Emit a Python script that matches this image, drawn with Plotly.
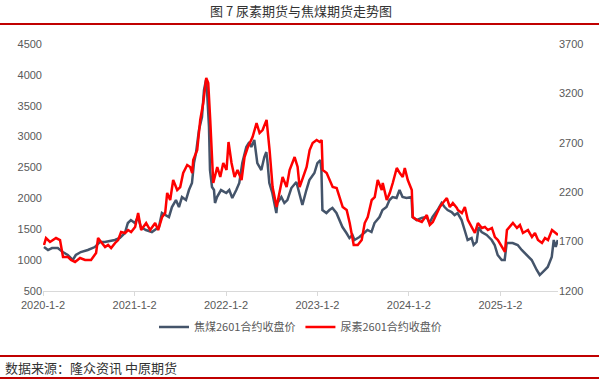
import plotly.graph_objects as go

# ---- data ----
coal_dates = ["2020-01-06","2020-01-22","2020-02-07","2020-03-01","2020-03-21","2020-04-10","2020-04-30","2020-05-12",
"2020-06-01","2020-06-29","2020-07-27","2020-08-16","2020-09-05","2020-10-15","2020-11-04","2020-11-24","2020-12-06",
"2020-12-18","2021-01-03","2021-01-15","2021-01-27","2021-02-16","2021-03-12","2021-04-09","2021-04-21","2021-05-19",
"2021-05-31","2021-06-16","2021-06-28","2021-07-10","2021-07-26","2021-08-07","2021-08-19","2021-08-27","2021-09-04",
"2021-09-16","2021-09-28","2021-10-06","2021-10-14","2021-10-18","2021-10-26","2021-10-30","2021-11-07","2021-11-15",
"2021-11-19","2021-11-27","2021-12-13","2022-01-03","2022-01-15","2022-01-27","2022-02-12","2022-02-24","2022-03-08",
"2022-03-24","2022-04-05","2022-04-13","2022-04-25","2022-05-07","2022-05-23","2022-06-04","2022-06-12","2022-06-16",
"2022-06-24","2022-07-06","2022-07-22","2022-07-26","2022-08-11","2022-08-23","2022-09-04","2022-09-20","2022-10-10",
"2022-10-22","2022-11-03","2022-11-19","2022-12-01","2022-12-21","2023-01-02","2023-01-14","2023-01-18","2023-01-22",
"2023-02-07","2023-02-19","2023-03-03","2023-03-19","2023-03-31","2023-04-12","2023-04-28","2023-05-10","2023-05-22",
"2023-05-30","2023-06-19","2023-07-09","2023-07-21","2023-08-06","2023-08-18","2023-09-07","2023-09-19","2023-10-05",
"2023-10-17","2023-10-29","2023-11-14","2023-11-26","2023-12-08","2023-12-24","2024-01-05","2024-01-13","2024-01-17",
"2024-02-02","2024-02-22","2024-03-13","2024-03-25","2024-04-06","2024-04-26","2024-05-12","2024-05-24","2024-06-05",
"2024-06-21","2024-07-03","2024-07-15","2024-07-31","2024-08-12","2024-08-24","2024-09-09","2024-09-17","2024-09-29",
"2024-10-07","2024-10-19","2024-11-08","2024-11-28","2024-12-10","2024-12-22","2025-01-07","2025-01-19","2025-01-27",
"2025-02-20","2025-03-12","2025-03-28","2025-04-17","2025-05-07","2025-05-27","2025-06-08","2025-06-28","2025-07-10",
"2025-07-26","2025-08-03","2025-08-11","2025-08-19"]
coal_values = [1212,1164,1196,1196,1131,1083,1002,1083,
1131,1164,1212,1293,1293,1326,1358,1439,1601,
1649,1601,1698,1536,1488,1455,1536,1763,1698,
1860,1973,1860,2022,1973,2135,2249,2572,2734,
3107,3317,3754,3916,3754,3155,2459,2184,2135,
1925,2022,2135,2087,2135,2006,2135,2249,2572,
2831,2912,2831,2945,2572,2459,2669,2750,2621,
2249,2087,1763,1925,2022,1925,1973,2168,2265,
2087,1892,2135,2297,2410,2572,2621,2459,1811,
1763,1811,1844,1763,1649,1536,1439,1358,1407,
1326,1374,1439,1488,1455,1601,1698,1811,1860,
1973,2022,2006,2135,2022,2006,2022,2022,1698,
1649,1682,1698,1601,1698,1811,1925,1860,1811,
1779,1730,1763,1649,1488,1326,1358,1245,1293,
1536,1455,1407,1326,1245,1083,1002,1002,1277,
1277,1245,1164,1083,1002,840,759,840,889,
1050,1326,1212,1326]

urea_dates = ["2020-01-06","2020-01-14","2020-01-30","2020-02-11","2020-02-23","2020-03-10","2020-03-14","2020-03-22",
"2020-04-11","2020-04-23","2020-05-09","2020-05-29","2020-06-18","2020-07-12","2020-08-01","2020-08-09","2020-08-21",
"2020-09-06","2020-09-18","2020-09-30","2020-10-16","2020-10-28","2020-11-09","2020-11-25","2020-12-07","2020-12-19",
"2021-01-04","2021-01-16","2021-01-28","2021-02-17","2021-03-05","2021-03-25","2021-04-06","2021-04-22","2021-05-04",
"2021-05-12","2021-05-24","2021-06-05","2021-06-21","2021-07-03","2021-07-15","2021-07-31","2021-08-12","2021-08-20",
"2021-08-24","2021-09-09","2021-09-21","2021-10-03","2021-10-15","2021-10-23","2021-10-31","2021-11-08","2021-11-12",
"2021-11-28","2021-12-10","2021-12-22","2022-01-04","2022-01-12","2022-01-24","2022-02-05","2022-02-17","2022-03-05",
"2022-03-17","2022-03-29","2022-04-18","2022-05-04","2022-05-16","2022-05-28","2022-06-13","2022-06-25","2022-07-07",
"2022-07-23","2022-08-04","2022-08-16","2022-09-01","2022-09-13","2022-10-03","2022-10-15","2022-10-23","2022-11-04",
"2022-11-20","2022-12-02","2022-12-14","2022-12-30","2023-01-11","2023-01-19","2023-01-23","2023-02-08","2023-02-20",
"2023-03-04","2023-03-20","2023-04-01","2023-04-13","2023-04-29","2023-05-11","2023-05-27","2023-06-12","2023-06-28",
"2023-07-10","2023-07-22","2023-08-07","2023-08-19","2023-08-31","2023-09-16","2023-09-20","2023-10-06","2023-10-18",
"2023-10-30","2023-11-15","2023-11-27","2023-12-09","2023-12-17","2023-12-29","2024-01-14","2024-01-18","2024-02-03",
"2024-02-23","2024-03-14","2024-03-26","2024-04-07","2024-04-23","2024-05-05","2024-05-17","2024-06-02","2024-06-14",
"2024-06-26","2024-07-12","2024-07-16","2024-08-01","2024-08-13","2024-08-25","2024-09-10","2024-09-22","2024-10-04",
"2024-10-20","2024-11-01","2024-11-13","2024-11-29","2024-12-11","2024-12-23","2025-01-08","2025-01-20","2025-01-28",
"2025-02-09","2025-02-21","2025-03-09","2025-03-21","2025-04-02","2025-04-22","2025-05-08","2025-05-20","2025-06-01",
"2025-06-17","2025-06-29","2025-07-11","2025-07-27","2025-08-08","2025-08-20"]
urea_values = [1666,1736,1696,1716,1736,1716,1645,1544,
1544,1514,1493,1534,1514,1514,1585,1736,1696,
1645,1666,1635,1686,1716,1797,1787,1817,1797,
1848,1989,1817,1888,1817,1888,1817,1949,1989,
2192,2121,2323,2222,2252,2394,2475,2455,2394,
2526,2627,2931,3103,3356,3305,2931,2556,2293,
2455,2354,2495,2425,2708,2495,2354,2425,2323,
2556,2647,2758,2900,2799,2829,2931,2627,2252,
2050,2192,2354,2252,2425,2556,2455,2252,2344,
2455,2627,2698,2728,2708,2728,2425,2394,2323,
2252,2242,2151,2050,2020,1888,1666,1666,1716,
1888,1949,2121,2151,2323,2222,2293,2121,2192,
2293,2445,2394,2354,2445,2323,2222,1949,1919,
1898,1969,1868,1898,1989,2050,2091,2141,2050,
2091,2040,2020,1989,2050,1919,1848,1787,1888,
1838,1848,1817,1838,1746,1716,1645,1595,1817,
1848,1888,1838,1868,1787,1817,1746,1787,1716,
1686,1736,1716,1817,1787,1767]

tick_dates = ["2020-01-02","2021-01-02","2022-01-02","2023-01-02","2024-01-02","2025-01-02"]
tick_labels = ["2020-1-2","2021-1-2","2022-1-2","2023-1-2","2024-1-2","2025-1-2"]

coal_name = "焦煤2601合约收盘价"
urea_name = "尿素2601合约收盘价"
title_text = "图 7 尿素期货与焦煤期货走势图"
source_text = "数据来源：隆众资讯 中原期货"

# ---- figure ----
W, H = 599, 384
L, R, T, B = 43, 41, 44, 93
PW, PH = W - L - R, H - T - B

def py(ypx):
    return (H - B - ypx) / PH

def px(xpx):
    return (xpx - L) / PW

fig = go.Figure()
fig.add_trace(go.Scatter(x=coal_dates, y=coal_values, name=coal_name, mode="lines",
                         line=dict(color="#44546A", width=2.5), yaxis="y"))
fig.add_trace(go.Scatter(x=urea_dates, y=urea_values, name=urea_name, mode="lines",
                         line=dict(color="#FF0000", width=2.5), yaxis="y2"))

tickfont = dict(family="Liberation Sans, Arial, sans-serif", size=11, color="#595959")
fig.update_layout(
    width=W, height=H, autosize=False,
    margin=dict(l=L, r=R, t=T, b=B, pad=0, autoexpand=False),
    paper_bgcolor="white", plot_bgcolor="white",
    showlegend=True,
    legend=dict(orientation="h", x=0.5, xanchor="center", y=py(327), yanchor="middle",
                font=dict(family="Noto Sans CJK SC, sans-serif", size=11, color="#595959"),
                itemwidth=30, tracegroupgap=0, bgcolor="rgba(0,0,0,0)"),
    xaxis=dict(type="date", range=["2020-01-02", "2025-08-20"], tickvals=tick_dates, ticktext=tick_labels,
               showgrid=False, zeroline=False, showline=True, linecolor="#D9D9D9", linewidth=1,
               ticks="outside", ticklen=4, tickcolor="#D9D9D9", tickfont=tickfont),
    yaxis=dict(range=[500, 4500], tick0=500, dtick=500, showgrid=False, zeroline=False,
               showline=False, ticks="", tickfont=tickfont),
    yaxis2=dict(range=[1200, 3700], tick0=1200, dtick=500, overlaying="y", side="right",
                showgrid=False, zeroline=False, showline=False, ticks="", tickfont=tickfont),
    font=dict(family="Noto Sans CJK SC, sans-serif"),
)

fig.add_annotation(text=title_text, xref="paper", yref="paper", x=px(301), y=py(11),
                   xanchor="center", yanchor="middle", showarrow=False,
                   font=dict(family="Noto Sans CJK SC, sans-serif", size=13, color="#333333"))
fig.add_annotation(text=source_text, xref="paper", yref="paper", x=px(3), y=py(367),
                   xanchor="left", yanchor="middle", showarrow=False,
                   font=dict(family="Noto Sans CJK SC, sans-serif", size=13, color="#333333"))

for ypx in (24, 356, 378):
    fig.add_shape(type="line", xref="paper", yref="paper", x0=px(0), x1=px(W), y0=py(ypx), y1=py(ypx),
                  line=dict(color="#C00000", width=2))

fig.write_html("out.html", config={"displayModeBar": False},
               post_script="document.body.style.margin='0px';")
